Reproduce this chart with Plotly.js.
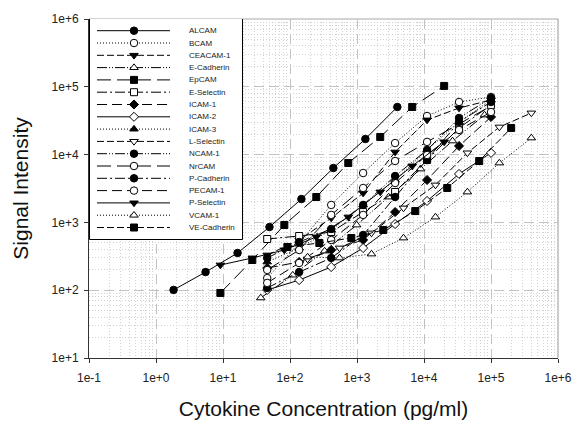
<!DOCTYPE html>
<html><head><meta charset="utf-8">
<script src="https://cdn.plot.ly/plotly-3.0.1.min.js"></script>
<style>html,body{margin:0;padding:0;background:#fff}#chart{width:585px;height:423px}</style>
</head><body><div id="chart"></div>
<script>
// ---- data ----
const names = ['ALCAM','BCAM','CEACAM-1','E-Cadherin','EpCAM','E-Selectin','ICAM-1','ICAM-2','ICAM-3','L-Selectin','NCAM-1','NrCAM','P-Cadherin','PECAM-1','P-Selectin','VCAM-1','VE-Cadherin'];

const concALCAM = [1.83,5.49,16.5,49.4,148,444,1333,4000];
const conc20k  = [9.14,27.4,82.3,247,741,2222,6667,20000];
const conc80k  = [36.6,110,329,988,2963,8889,26667,80000];
const conc100k = [45.7,137,412,1235,3704,11111,33333,100000];
const conc200k = [91.4,274,823,2469,7407,22222,66667,200000];
const conc400k = [183,549,1646,4938,14815,44444,133333,400000];

const sigALCAM      = [101,185,354,855,2210,6340,17000,50400];
const sigBCAM       = [151,497,1810,5350,14800,37100,59700,70800];
const sigCEACAM1    = [330,550,1160,2710,10900,32400,48700,63800];
const sigECadherin  = [77,167,378,916,2370,6140,15900,38400];
const sigEpCAM      = [91,279,916,2370,7520,18200,50400,103000];
const sigESelectin  = [569,630,721,1420,2810,8320,24700,53900];
const sigICAM1      = [212,261,392,550,1420,4220,13400,35900];
const sigICAM2      = [101,141,220,419,947,2070,5180,10600];
const sigICAM3      = [261,419,773,1810,4220,11700,30300,63800];
const sigLSelectin  = [288,419,698,1630,3560,10600,25500,41100];
const sigNCAM1      = [299,514,800,1810,4830,11700,34700,68400];
const sigNrCAM      = [199,392,1290,3220,8050,15400,28300,52100];
const sigPCadherin  = [108,185,299,652,2370,8320,30300,59700];
const sigPECAM1     = [128,252,550,1290,3810,9870,23100,42500];
const sigPSelectin  = [235,299,392,610,1200,2810,6790,15400];
const sigVCAM1      = [309,299,342,589,1200,2810,7520,17600];
const sigVECadherin = [434,497,589,773,1470,3220,8050,24700];

const xTickVals = [0.1,1,10,100,1000,10000,100000,1000000];
const xTickText = ['1e-1','1e+0','1e+1','1e+2','1e+3','1e+4','1e+5','1e+6'];
const yTickVals = [10,100,1000,10000,100000,1000000];
const yTickText = ['1e+1','1e+2','1e+3','1e+4','1e+5','1e+6'];

// ---- pairing of data ----
const seriesX = [concALCAM,conc100k,conc100k,conc80k,conc20k,conc100k,conc100k,conc100k,conc100k,conc400k,conc100k,conc100k,conc100k,conc100k,conc20k,conc400k,conc200k];
const seriesY = [sigALCAM,sigBCAM,sigCEACAM1,sigECadherin,sigEpCAM,sigESelectin,sigICAM1,sigICAM2,sigICAM3,sigLSelectin,sigNCAM1,sigNrCAM,sigPCadherin,sigPECAM1,sigPSelectin,sigVCAM1,sigVECadherin];

// ---- styles ----
const DOT='1px,2px', DASH='7px,3px', LDASH='14px,6px', MDASH='10px,5px', DD='10px,3px,2px,3px', DDD='10px,2px,1px,2px,1px,2px';
const styleSym  = ['circle','circle','triangle-down','triangle-up','square','square','diamond','diamond','triangle-up','triangle-down','circle','circle','circle','circle','triangle-down','triangle-up','square'];
const styleFill = [true,false,true,false,true,false,true,false,true,false,true,false,true,false,true,false,true];
const styleDash = ['solid',DOT,DASH,DDD,LDASH,DD,MDASH,'solid',DOT,DASH,DDD,LDASH,DD,MDASH,'solid',DOT,DASH];
const symSize = {'circle':7.5,'square':7,'triangle-up':7.5,'triangle-down':7.5,'diamond':7};

function markerOf(i, opacity){
  return {symbol:styleSym[i], size:symSize[styleSym[i]], color: styleFill[i]?'#000':'#fff',
          line:{color:'#000',width:1}, opacity:opacity};
}

const traces = [];
for(let i=0;i<names.length;i++){
  traces.push({type:'scatter', mode:'lines+markers', name:names[i], x:seriesX[i], y:seriesY[i],
    line:{color:'#000', width:1, dash:styleDash[i]}, marker:markerOf(i,1),
    showlegend:false, hoverinfo:'x+y+name', xaxis:'x', yaxis:'y'});
}

// ---- hand-built legend in its own small subplot ----
const PW = 469, PH = 339;            // plot area size in px
const legW = 154, legH = 221;        // legend box size in px
const rowTop = 11.7, rowStep = 12.3; // row layout inside the box (px)
const annotations = [];
for(let i=0;i<names.length;i++){
  const v = legH - (rowTop + rowStep*i);
  traces.push({type:'scatter', mode:'lines+markers', x:[8,45,81], y:[v,v,v],
    line:{color:'#000', width:1, dash:styleDash[i]},
    marker:Object.assign(markerOf(i,1),{opacity:[0,1,0]}),
    showlegend:false, hoverinfo:'skip', xaxis:'x2', yaxis:'y2', cliponaxis:false});
  annotations.push({xref:'x2', yref:'y2', x:98, y:v, text:names[i], showarrow:false,
    xanchor:'left', yanchor:'middle', font:{size:8, color:'#222', family:'Liberation Sans, Arial, sans-serif'}});
}

const gridCol = '#c2c2c2', minorCol = '#d2d2d2';
function minorVals(lo, hi){
  const out=[];
  for(let e=lo;e<hi;e++) for(let d=2;d<=9;d++) out.push(d*Math.pow(10,e));
  return out;
}

const layout = {
  width:585, height:423,
  margin:{l:89, r:27, t:19, b:65},
  paper_bgcolor:'#fff', plot_bgcolor:'#fff',
  font:{family:'Liberation Sans, Arial, sans-serif', color:'#000'},
  showlegend:false,
  xaxis:{type:'log', range:[-1,6], domain:[0,1], anchor:'y',
    tickmode:'array', tickvals:xTickVals, ticktext:xTickText,
    ticks:'outside', ticklen:4, tickcolor:'#333', tickwidth:1, ticklabelstandoff:5,
    showline:true, linecolor:'#333', linewidth:1, zeroline:false,
    showgrid:true, gridcolor:gridCol, gridwidth:1, griddash:'10px,5px',
    minor:{tickmode:'array', tickvals:minorVals(-1,6), showgrid:true, gridcolor:minorCol, griddash:'1px,2px', ticks:''},
    tickfont:{size:12, color:'#222'},
    title:{text:'Cytokine Concentration (pg/ml)', font:{size:21, color:'#111'}, standoff:16}},
  yaxis:{type:'log', range:[1,6], domain:[0,1], anchor:'x',
    tickmode:'array', tickvals:yTickVals, ticktext:yTickText,
    ticks:'outside', ticklen:4, tickcolor:'#333', tickwidth:1, ticklabelstandoff:3,
    showline:true, linecolor:'#333', linewidth:1, zeroline:false,
    showgrid:true, gridcolor:gridCol, gridwidth:1, griddash:'10px,5px',
    minor:{tickmode:'array', tickvals:minorVals(1,6), showgrid:true, gridcolor:minorCol, griddash:'1px,2px', ticks:''},
    tickfont:{size:12, color:'#222'},
    title:{text:'Signal Intensity', font:{size:21, color:'#111'}, standoff:17}},
  xaxis2:{domain:[0, legW/PW], range:[0,legW], visible:false, anchor:'y2', fixedrange:true},
  yaxis2:{domain:[1-legH/PH, 1], range:[0,legH], visible:false, anchor:'x2', fixedrange:true},
  shapes:[
    {type:'line', xref:'paper', yref:'paper', x0:0, x1:1, y0:1, y1:1, line:{color:'#a8a8a8', width:1.2}, layer:'below'},
    {type:'line', xref:'paper', yref:'paper', x0:1, x1:1, y0:0, y1:1, line:{color:'#a8a8a8', width:1.2}, layer:'below'},
    {type:'rect', xref:'x2', yref:'y2', x0:0.5, x1:legW-0.5, y0:0.5, y1:legH+1.5, fillcolor:'#fff', line:{color:'#000', width:1}, layer:'below'}
  ],
  annotations:annotations
};

Plotly.newPlot('chart', traces, layout, {displayModeBar:false, staticPlot:true});
</script>
</body></html>
